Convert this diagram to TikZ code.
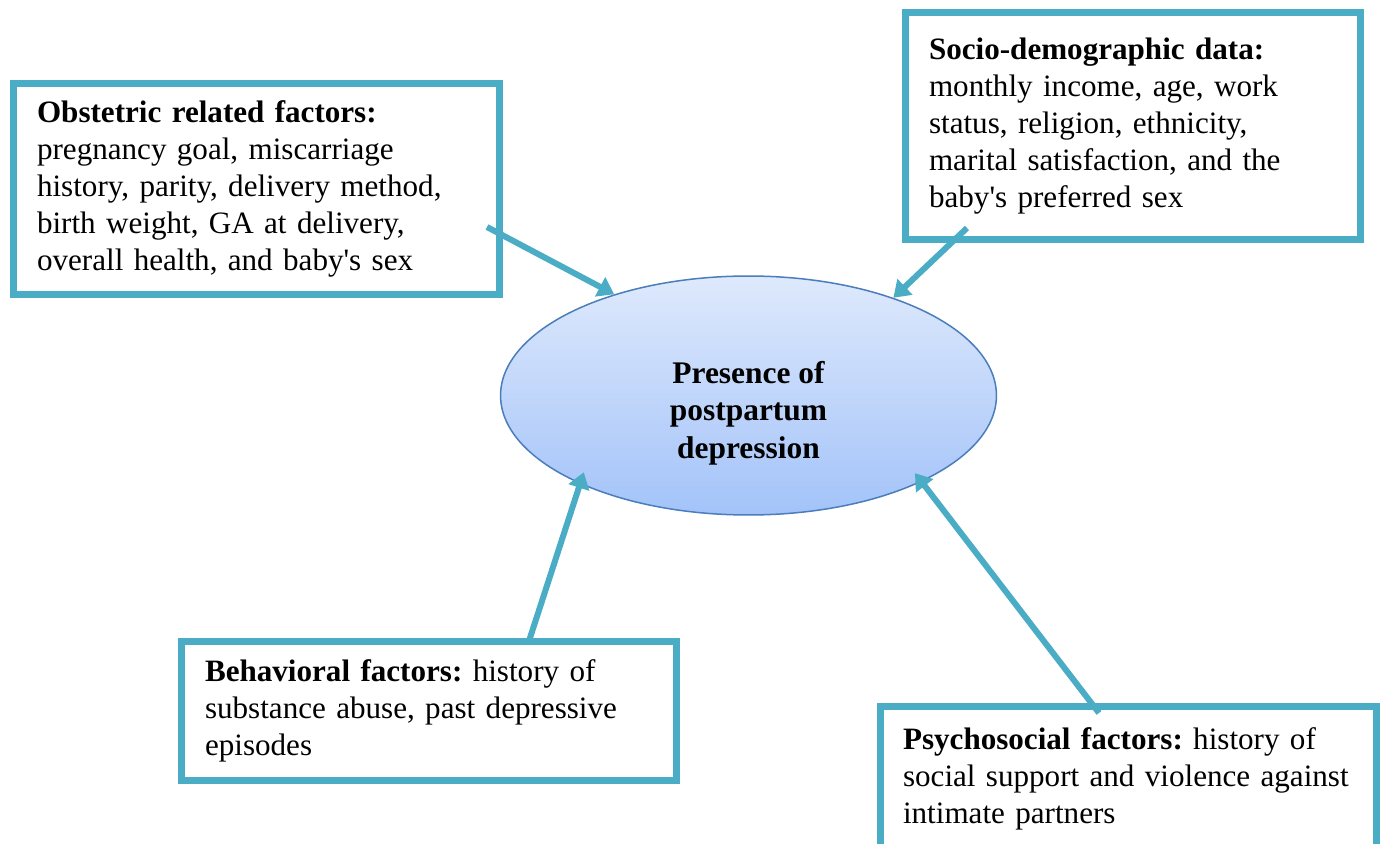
\documentclass[tikz,border=0pt]{standalone}
\usepackage{fontspec}
\setmainfont{Liberation Serif}[Ligatures=TeXOff]
\usepackage{xcolor}
\usepackage{tikz}
\usetikzlibrary{arrows.meta,shapes.geometric,calc}
\definecolor{pfteal}{HTML}{4BACC6}
\definecolor{pfedge}{HTML}{4A7EBB}
\definecolor{pftop}{HTML}{DEE9FC}
\definecolor{pfbottom}{HTML}{A3C3F9}
\tikzset{
  pf box/.style={
    rectangle,
    draw=pfteal,
    line width=0.14cm,
    fill=white,
    align=left,
    inner sep=0pt,
    font=\fontsize{17.7}{21}\selectfont\frenchspacing,
  },
  pf core/.style={
    ellipse,
    draw=pfedge,
    line width=0.03cm,
    top color=pftop,
    bottom color=pfbottom,
    minimum width=9.92cm,
    minimum height=4.78cm,
    inner sep=0pt,
  },
  pf label/.style={
    align=center,
    inner sep=0pt,
    font=\bfseries\fontsize{17.9}{21.3}\selectfont,
  },
  pf arrow/.style={-{Triangle[length=0.32cm,width=0.42cm]}, line width=0.12cm, draw=pfteal},
}

\begin{document}
\begin{tikzpicture}[x=0.02cm,y=-0.02cm]
  \clip (0,0) rectangle (1384,844);

  \node[pf box,minimum width=9.72cm,minimum height=4.22cm,text width=8.78cm] (obst) at (256.5,189)
    {\textbf{Obstetric related factors:}\\ pregnancy goal, miscarriage\\ history, parity, delivery method,\\ birth weight, GA at delivery,\\ overall health, and baby's sex};
  \node[pf box,minimum width=9.1cm,minimum height=4.54cm,text width=8.16cm] (socio) at (1133,126)
    {\textbf{Socio-demographic data:}\\ monthly income, age, work\\ status, religion, ethnicity,\\ marital satisfaction, and the\\ baby's preferred sex};
  \node[pf box,minimum width=9.9cm,minimum height=2.78cm,text width=8.96cm] (behav) at (429,711)
    {\textbf{Behavioral factors:} history of\\ substance abuse, past depressive\\ episodes};
  \node[pf box,minimum width=9.93cm,minimum height=2.88cm,text width=9.03cm] (psych) at (1128.75,778.5)
    {\textbf{Psychosocial factors:} history of\\ social support and violence against\\ intimate partners};

  \node[pf core] (ppd) at (748.5,395.5) {};
  \node[pf label] (ppdtext) at (748.5,413) {Presence of\\ postpartum\\ depression};

  % arrow tails sit just inside the boxes
  \coordinate (obsttail) at (487,227);
  \coordinate (sociotail) at (967,228);
  \coordinate (behavtail) at (529,641);
  \coordinate (psychtail) at (1099,713);

  \draw[pf arrow] (obsttail) -- (ppd.143);
  \draw[pf arrow] (sociotail) -- (ppd.34);
  \draw[pf arrow] (behavtail) -- ($(ppd.center)!0.92!(ppd.205)$);
  \draw[pf arrow] (psychtail) -- ($(ppd.center)!0.93!(ppd.335)$);
\end{tikzpicture}
\end{document}
